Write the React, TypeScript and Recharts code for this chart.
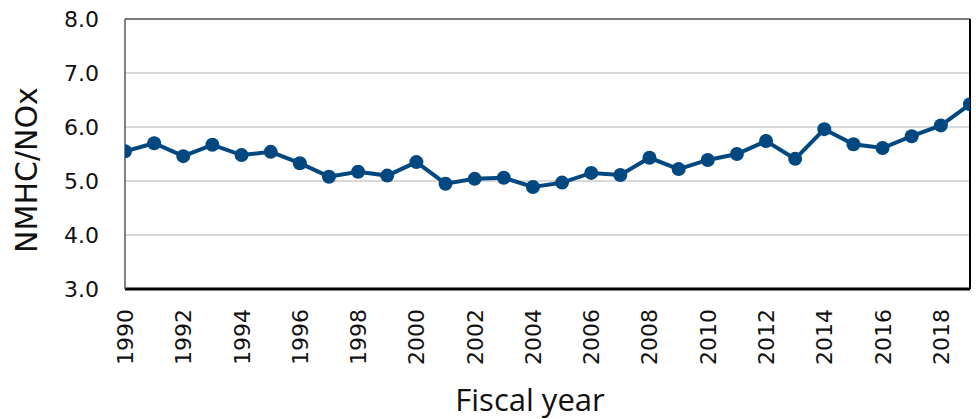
import React from 'react';
import { LineChart, Line, XAxis, YAxis, CartesianGrid, ReferenceLine } from 'recharts';

const years = [1990, 1991, 1992, 1993, 1994, 1995, 1996, 1997, 1998, 1999, 2000, 2001, 2002, 2003, 2004, 2005, 2006, 2007, 2008, 2009, 2010, 2011, 2012, 2013, 2014, 2015, 2016, 2017, 2018, 2019];
const ratios = [5.55, 5.70, 5.46, 5.67, 5.48, 5.54, 5.33, 5.08, 5.17, 5.10, 5.35, 4.95, 5.04, 5.06, 4.89, 4.97, 5.15, 5.11, 5.43, 5.22, 5.39, 5.50, 5.74, 5.41, 5.96, 5.68, 5.61, 5.83, 6.03, 6.42];
const xTicks = [1990, 1992, 1994, 1996, 1998, 2000, 2002, 2004, 2006, 2008, 2010, 2012, 2014, 2016, 2018];
const yTicks = [3, 4, 5, 6, 7, 8];

const data = years.map((y, i) => ({ year: y, value: ratios[i] }));

const XTick = (props: any) => {
  const { x, y, payload } = props;
  const tx = x + 8;
  const ty = y + 20;
  return (
    <text x={tx} y={ty} transform={`rotate(-90, ${tx}, ${ty})`} textAnchor="end" fontFamily="DejaVu Sans" fontSize={22} fill="#111">
      {payload.value}
    </text>
  );
};

const YTick = (props: any) => {
  const { x, y, payload } = props;
  return (
    <text x={x} y={y} dy="0.36em" textAnchor="end" fontFamily="DejaVu Sans" fontSize={22} fill="#111">
      {Number(payload.value).toFixed(1)}
    </text>
  );
};

export default function App() {
  return (
    <div style={{ position: 'absolute', left: 0, top: 0, width: 976, height: 419, background: '#fff' }}>
      <LineChart width={976} height={419} data={data} margin={{ top: 19, right: 6, left: 0, bottom: 0 }}>
        <CartesianGrid vertical={false} stroke="#d9d9d9" strokeWidth={2} />
        <XAxis
          dataKey="year"
          type="number"
          domain={[1990, 2019]}
          ticks={xTicks}
          height={130}
          tickLine={false}
          tickSize={0}
          tickMargin={0}
          axisLine={{ stroke: '#000', strokeWidth: 3 }}
          tick={<XTick />}
          interval={0}
          allowDataOverflow
        />
        <YAxis
          type="number"
          domain={[3, 8]}
          ticks={yTicks}
          width={125}
          tickLine={false}
          tickSize={0}
          tickMargin={26}
          axisLine={{ stroke: '#595959', strokeWidth: 1.5 }}
          tick={<YTick />}
          interval={0}
        />
        <ReferenceLine y={8} stroke="#595959" strokeWidth={1.5} />
        <ReferenceLine x={2019} stroke="#000" strokeWidth={2} />
        <Line
          type="linear"
          dataKey="value"
          stroke="#00487f"
          strokeWidth={4}
          dot={{ r: 7, fill: '#00487f', stroke: '#00487f', strokeWidth: 0 }}
          activeDot={false}
          isAnimationActive={false}
        />
        <text x={37} y={170} transform="rotate(-90, 37, 170)" textAnchor="middle" fontFamily="DejaVu Sans" fontSize={30} fill="#111">
          NMHC/NOx
        </text>
        <text x={530} y={411} textAnchor="middle" fontFamily="Open Sans" fontSize={31} fill="#111">
          Fiscal year
        </text>
      </LineChart>
    </div>
  );
}
